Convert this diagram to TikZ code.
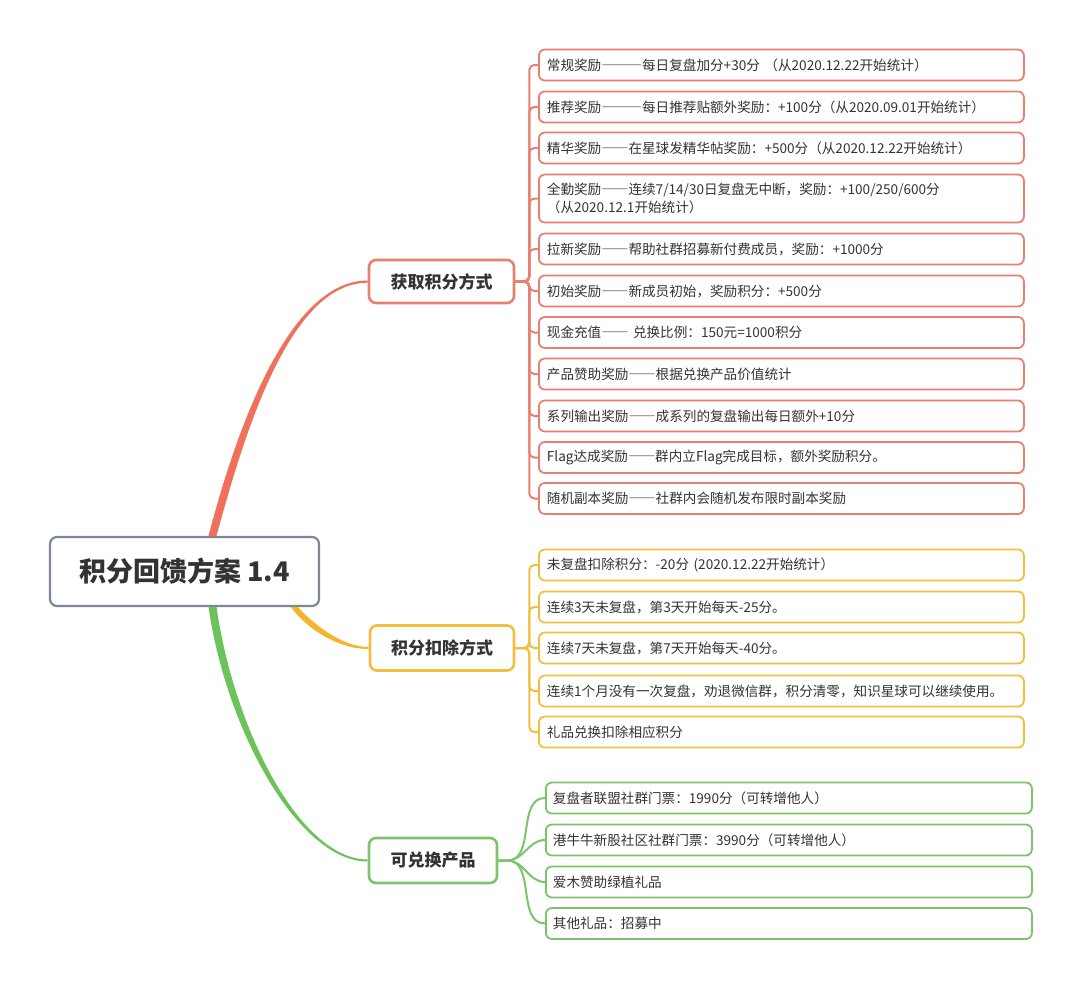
\documentclass[tikz,border=0pt]{standalone}
\usepackage{fontspec}
\setmainfont{Noto Sans CJK SC}
\newfontfamily\fwfont[RawFeature=+fwid]{Noto Sans CJK SC}
\usepackage{xcolor}
\definecolor{rootLine}{HTML}{7D8799}
\definecolor{inkColor}{HTML}{333333}
\definecolor{gainColor}{HTML}{F0705C}
\definecolor{gainEdge}{HTML}{E8806F}
\definecolor{deductColor}{HTML}{F5B52A}
\definecolor{deductEdge}{HTML}{F2BE3E}
\definecolor{redeemColor}{HTML}{6CC35A}
\definecolor{redeemEdge}{HTML}{7CC46B}
\tikzset{
  mindroot/.style={
    draw=rootLine,
    fill=white,
    line width=2.2pt,
    rounded corners=7pt,
    minimum width=269pt,
    minimum height=69pt,
    font=\fontsize{27}{30}\selectfont\bfseries,
    text=inkColor
  },
  mindbranch/.style={
    fill=white,
    line width=2.6pt,
    rounded corners=7pt,
    minimum height=45pt,
    font=\fontsize{17}{20}\selectfont\bfseries,
    text=inkColor
  },
  mindleaf/.style={
    fill=white,
    line width=1.8pt,
    rounded corners=6pt,
    anchor=west,
    minimum height=31pt,
    inner xsep=8pt,
    inner ysep=5pt,
    text width=469pt,
    align=left,
    font=\fontsize{13.6}{18}\selectfont,
    text=inkColor
  },
  gainleaf/.style={mindleaf, draw=gainEdge},
  deductleaf/.style={mindleaf, draw=deductEdge},
  redeemleaf/.style={mindleaf, draw=redeemEdge, inner xsep=7pt, text width=472pt},
  gainline/.style={draw=gainEdge, line width=2pt, rounded corners=5pt},
  deductline/.style={draw=deductEdge, line width=2pt, rounded corners=5pt},
  redeemline/.style={draw=redeemEdge, line width=2pt},
  gaincurve/.style={fill=gainColor},
  deductcurve/.style={fill=deductColor},
  redeemcurve/.style={fill=redeemColor}
}
\begin{document}
\begin{tikzpicture}[x=1pt,y=-1pt]
  \useasboundingbox (0,0) rectangle (1080,988);
  \node[mindroot] (root) at (184.5,571.5) {积分回馈方案 1.4};
  \node[mindbranch, draw=gainEdge, minimum width=145pt, minimum height=43pt] (gain) at (441.5,281.5) {获取积分方式};
  \node[mindbranch, draw=deductEdge, minimum width=144pt] (deduct) at (442,648) {积分扣除方式};
  \node[mindbranch, draw=redeemEdge, minimum width=128pt] (redeem) at (433,860.5) {可兑换产品};
  % earning points
  \node[gainleaf] (gain1) at (538,65) {常规奖励{\fwfont ———}每日复盘加分+30分 （从2020.12.22开始统计）};
  \node[gainleaf] (gain2) at (538,107) {推荐奖励{\fwfont ———}每日推荐贴额外奖励：+100分（从2020.09.01开始统计）};
  \node[gainleaf] (gain3) at (538,148) {精华奖励{\fwfont ——}在星球发精华帖奖励：+500分（从2020.12.22开始统计）};
  \node[gainleaf, minimum height=48pt] (gain4) at (538,198.5) {全勤奖励{\fwfont ——}连续7/14/30日复盘无中断，奖励：+100/250/600分\\（从2020.12.1开始统计）};
  \node[gainleaf] (gain5) at (538,249) {拉新奖励{\fwfont ——}帮助社群招募新付费成员，奖励：+1000分};
  \node[gainleaf] (gain6) at (538,291) {初始奖励{\fwfont ——}新成员初始，奖励积分：+500分};
  \node[gainleaf] (gain7) at (538,332.5) {现金充值{\fwfont ——} 兑换比例：150元=1000积分};
  \node[gainleaf] (gain8) at (538,374) {产品赞助奖励{\fwfont ——}根据兑换产品价值统计};
  \node[gainleaf] (gain9) at (538,416) {系列输出奖励{\fwfont ——}成系列的复盘输出每日额外+10分};
  \node[gainleaf] (gain10) at (538,457.5) {Flag达成奖励{\fwfont ——}群内立Flag完成目标，额外奖励积分。};
  \node[gainleaf] (gain11) at (538,498.5) {随机副本奖励{\fwfont ——}社群内会随机发布限时副本奖励};
  % deducting points
  \node[deductleaf] (deduct1) at (538,565) {未复盘扣除积分：-20分 (2020.12.22开始统计）};
  \node[deductleaf] (deduct2) at (538,607) {连续3天未复盘，第3天开始每天-25分。};
  \node[deductleaf] (deduct3) at (538,648) {连续7天未复盘，第7天开始每天-40分。};
  \node[deductleaf] (deduct4) at (538,691) {连续1个月没有一次复盘，劝退微信群，积分清零，知识星球可以继续使用。};
  \node[deductleaf] (deduct5) at (538,732) {礼品兑换扣除相应积分};
  % redeemable items
  \node[redeemleaf] (redeem1) at (545,798) {复盘者联盟社群门票：1990分（可转增他人）};
  \node[redeemleaf] (redeem2) at (545,840) {港牛牛新股社区社群门票：3990分（可转增他人）};
  \node[redeemleaf] (redeem3) at (545,882) {爱木赞助绿植礼品};
  \node[redeemleaf] (redeem4) at (545,923.5) {其他礼品：招募中};
  % tapered main branches
  \fill[gaincurve] ([xshift=24pt]root.north) .. controls +(28,-107) and +(-79,0) .. ([yshift=1pt]gain.west)
    -- ([yshift=-1.2pt]gain.west) .. controls +(-77,0) and +(29,-107) .. ([xshift=32pt]root.north) -- cycle;
  \fill[deductcurve] ([xshift=-29pt]root.south east) .. controls +(14,20) and +(-32,0) .. ([yshift=-1pt]deduct.west)
    -- ([yshift=1pt]deduct.west) .. controls +(-28,0) and +(12,14) .. ([xshift=-22pt]root.south east) -- cycle;
  \fill[redeemcurve] ([xshift=24pt]root.south) .. controls +(18,124) and +(-69,0) .. ([yshift=-1pt]redeem.west)
    -- ([yshift=1pt]redeem.west) .. controls +(-67,0) and +(18,124) .. ([xshift=32pt]root.south) -- cycle;
  \foreach \i in {1,...,11}{\draw[gainline] (gain.east) -- ++(14,0) |- (gain\i.west);}
  \foreach \i in {1,...,5}{\draw[deductline] (deduct.east) -- ++(14,0) |- (deduct\i.west);}
  \foreach \i in {1,...,4}{\draw[redeemline] (redeem.east) -- ++(9,0) to[out=0,in=180] (redeem\i.west);}
\end{tikzpicture}
\end{document}
